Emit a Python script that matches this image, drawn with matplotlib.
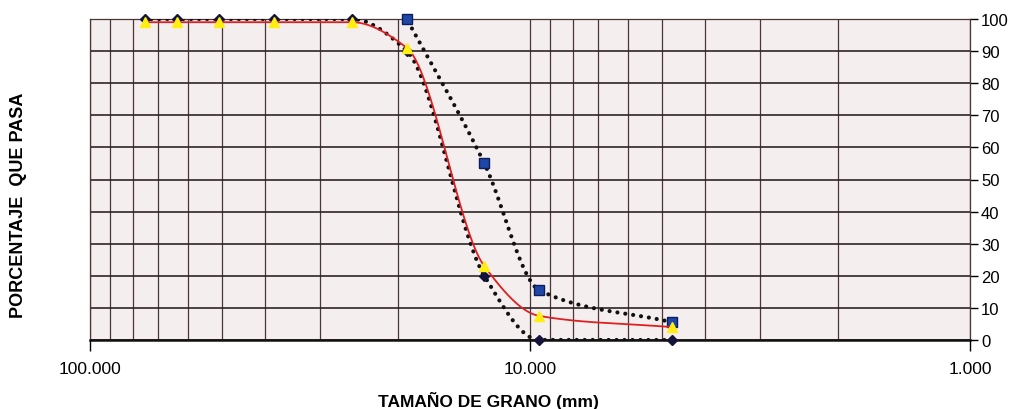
import numpy as np
import matplotlib
matplotlib.use('Agg')
import matplotlib.pyplot as plt
from matplotlib.ticker import FixedLocator, NullFormatter

plt.rcParams['font.family'] = ['Liberation Sans', 'DejaVu Sans']

# tamiz (mm) y porcentaje que pasa
tamiz_muestra = [75.0, 63.5, 50.8, 38.1, 25.4, 19.05, 12.7, 9.525, 4.75]
pasa_muestra = [99, 99, 99, 99, 99, 91, 23, 7.5, 4]

tamiz_inf = [75.0, 63.5, 50.8, 38.1, 25.4, 19.05, 12.7, 9.525, 4.75]
pasa_inf = [100, 100, 100, 100, 100, 90, 20, 0, 0]

tamiz_sup = [19.05, 12.7, 9.525, 4.75]
pasa_sup = [100, 55, 15.5, 5.5]

x_ticks = [100, 10, 1]
x_ticklabels = ['100.000', '10.000', '1.000']


def suavizar(xs, ys, n=40):
    # curva suavizada monotona (tipo PCHIP) en escala log
    x = np.log10(xs)[::-1]
    y = np.asarray(ys, float)[::-1]
    h = np.diff(x)
    dl = np.diff(y) / h
    d = np.zeros_like(y)
    d[0], d[-1] = dl[0], dl[-1]
    for k in range(1, len(y) - 1):
        if dl[k - 1] * dl[k] > 0:
            w1 = 2 * h[k] + h[k - 1]
            w2 = h[k] + 2 * h[k - 1]
            d[k] = (w1 + w2) / (w1 / dl[k - 1] + w2 / dl[k])
    ox, oy = [], []
    t = np.linspace(0, 1, n)
    for k in range(len(h)):
        h00 = 2 * t ** 3 - 3 * t ** 2 + 1
        h10 = t ** 3 - 2 * t ** 2 + t
        h01 = -2 * t ** 3 + 3 * t ** 2
        h11 = t ** 3 - t ** 2
        ox.extend(x[k] + t * h[k])
        oy.extend(h00 * y[k] + h10 * h[k] * d[k] + h01 * y[k + 1]
                  + h11 * h[k] * d[k + 1])
    return 10 ** np.array(ox), np.array(oy)


fig = plt.figure(figsize=(10.12, 4.1), dpi=100)
ax = fig.add_axes([90 / 1012, 1 - 341 / 410, 880 / 1012, 321 / 410])
ax.set_facecolor('#f4eeef')

ax.set_xscale('log')
ax.set_xlim(100, 1)
ax.set_ylim(0, 100)

minors = [v * d for d in (1, 10) for v in range(2, 10)]
ax.xaxis.set_major_locator(FixedLocator(x_ticks))
ax.xaxis.set_minor_locator(FixedLocator(minors))
ax.xaxis.set_minor_formatter(NullFormatter())
ax.set_xticklabels(x_ticklabels)
ax.set_yticks(range(0, 101, 10))

ax.grid(True, which='both', axis='x', color='#4a3636', lw=0.9)
ax.grid(True, which='major', axis='y', color='#2e2525', lw=1.2)
ax.set_axisbelow(True)

ax.yaxis.tick_right()
ax.tick_params(axis='y', which='major', direction='out', length=6, width=1,
               labelsize=12, pad=2)
ax.tick_params(axis='x', which='major', direction='out', length=8, width=1,
               labelsize=12.5, pad=7)
ax.tick_params(axis='x', which='minor', length=0)

for s in ax.spines.values():
    s.set_color('#4a3636')
    s.set_linewidth(0.9)
ax.spines['bottom'].set_color('#111111')
ax.spines['bottom'].set_linewidth(1.8)

dot = dict(color='#111111', lw=3, linestyle=(0, (0.01, 1.9)),
           dash_capstyle='round', zorder=3)

xs, ys = suavizar(tamiz_inf, pasa_inf)
ax.plot(xs, ys, **dot)
ax.plot(tamiz_inf, pasa_inf, 'D', color='#14143a', ms=5, zorder=4, clip_on=False)

xs, ys = suavizar(tamiz_sup, pasa_sup)
ax.plot(xs, ys, **dot)
ax.plot(tamiz_sup, pasa_sup, 's', color='#1f47a8', mec='#0d1d5a', ms=7,
        zorder=4, clip_on=False)

xs, ys = suavizar(tamiz_muestra, pasa_muestra)
ax.plot(xs, ys, color='#e02020', lw=1.3, zorder=5)
ax.plot(tamiz_muestra, pasa_muestra, '^', color='#ffee10', mec='#ffee10',
        ms=7, zorder=6, clip_on=False)

fig.text(488 / 1012, 1 - 401 / 410, 'TAMAÑO DE GRANO (mm)', ha='center',
         va='center', fontsize=12.5, fontweight='bold')
fig.text(19 / 1012, 1 - 205 / 410, 'PORCENTAJE  QUE PASA', ha='center',
         va='center', rotation=90, fontsize=13, fontweight='bold')

fig.savefig('out.png', dpi=100, facecolor='white')
